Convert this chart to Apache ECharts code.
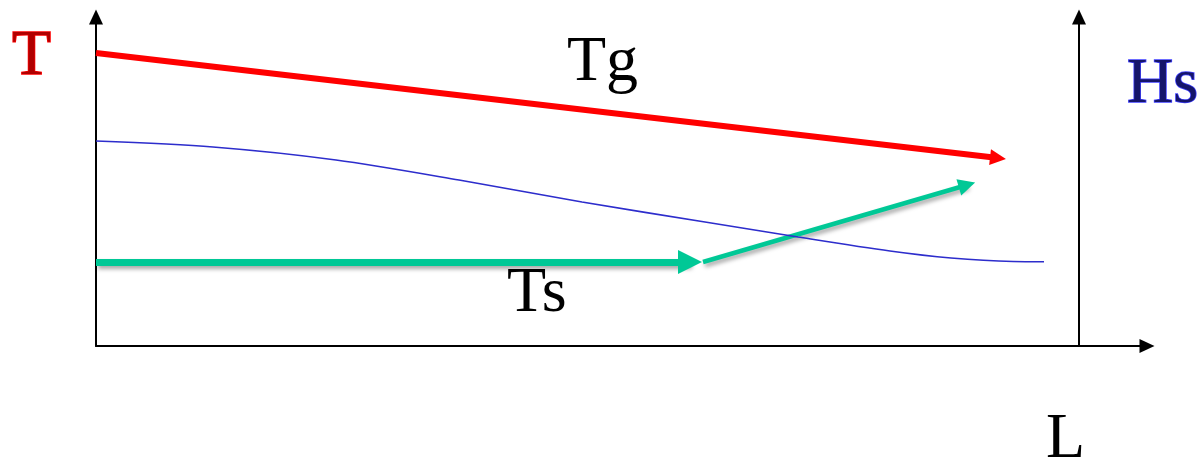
<!DOCTYPE html>
<html>
<head>
<meta charset="utf-8">
<title>Tg / Ts / Hs along L</title>
<script src="https://cdn.jsdelivr.net/npm/echarts@6/dist/echarts.min.js"></script>
<style>
  html, body { margin: 0; padding: 0; background: #fff; }
  #chart { width: 1202px; height: 460px; }
</style>
</head>
<body>
<div id="chart"></div>
<script>
"use strict";

// schematic: units are distance from the origin of the axes
const x_max = 1051;
const y_max = 329;
const hs_axis_x = 983; // where the right (Hs) axis stands

// gas temperature Tg, one straight arrow (end = middle of the arrow head)
const tg_line = [[0, 293], [902, 188]];

// solid temperature Ts, flat then rising
const ts_flat = [[0, 84], [594, 84]];
const ts_rise = [[607, 84], [871, 161]];

// Hs profile
const hs_x = [0, 117, 240, 363, 486, 609, 702, 794, 855, 917, 948];
const hs_y = [205, 199, 186, 166, 144, 124, 109, 95, 88, 84.5, 84.3];

const labels = [
  { text: "T", x: 12, y: 57, fill: "#b00000", stroke: "#ff0000" },
  { text: "Tg", x: 567, y: 63, fill: "#000", stroke: null },
  { text: "Ts", x: 507, y: 294, fill: "#000", stroke: null },
  { text: "Hs", x: 1127, y: 85, fill: "#15156a", stroke: "#4040ff" },
  { text: "L", x: 1046, y: 440, fill: "#000", stroke: null },
];

function arrow_series(coords, color, width, size, shadow) {
  return {
    type: "lines",
    coordinateSystem: "cartesian2d",
    silent: true,
    animation: false,
    symbol: ["none", "triangle"],
    symbolSize: size,
    lineStyle: {
      color: color,
      width: width,
      opacity: 1,
      shadowColor: shadow ? "rgba(0,0,0,0.35)" : "transparent",
      shadowBlur: shadow ? 4 : 0,
      shadowOffsetX: shadow ? 2 : 0,
      shadowOffsetY: shadow ? 3 : 0,
    },
    data: [{ coords: coords }],
  };
}

const chart = echarts.init(document.getElementById("chart"));

const axis_common = {
  type: "value",
  min: 0,
  splitLine: { show: false },
  axisTick: { show: false },
  axisLabel: { show: false },
  axisLine: {
    show: true,
    onZero: false,
    symbol: ["none", "triangle"],
    symbolSize: [14, 15],
    lineStyle: { color: "#000", width: 2 },
  },
};

chart.setOption({
  animation: false,
  grid: { left: 96, right: 55, top: 17, bottom: 114, containLabel: false },
  xAxis: { ...axis_common, max: x_max },
  yAxis: [
    { ...axis_common, max: y_max, position: "left" },
    { ...axis_common, max: y_max, position: "right", offset: -(x_max - hs_axis_x) },
  ],
  graphic: labels.map((l) => ({
    type: "text",
    silent: true,
    style: {
      text: l.text,
      x: l.x,
      y: l.y,
      font: "64px 'Liberation Serif'",
      fill: l.fill,
      stroke: l.stroke || undefined,
      lineWidth: l.stroke ? 1.5 : 0,
      textAlign: "left",
      textVerticalAlign: "middle",
    },
  })),
  series: [
    {
      type: "line",
      silent: true,
      smooth: 0.3,
      symbol: "none",
      lineStyle: { color: "#2d2dcc", width: 1.6 },
      data: hs_x.map((x, i) => [x, hs_y[i]]),
    },
    arrow_series(tg_line, "#ff0000", 6, [17, 16], false),
    arrow_series(ts_flat, "#00c896", 7, [23, 24], true),
    arrow_series(ts_rise, "#00c896", 4.5, [20, 17], true),
  ],
});
</script>
</body>
</html>
